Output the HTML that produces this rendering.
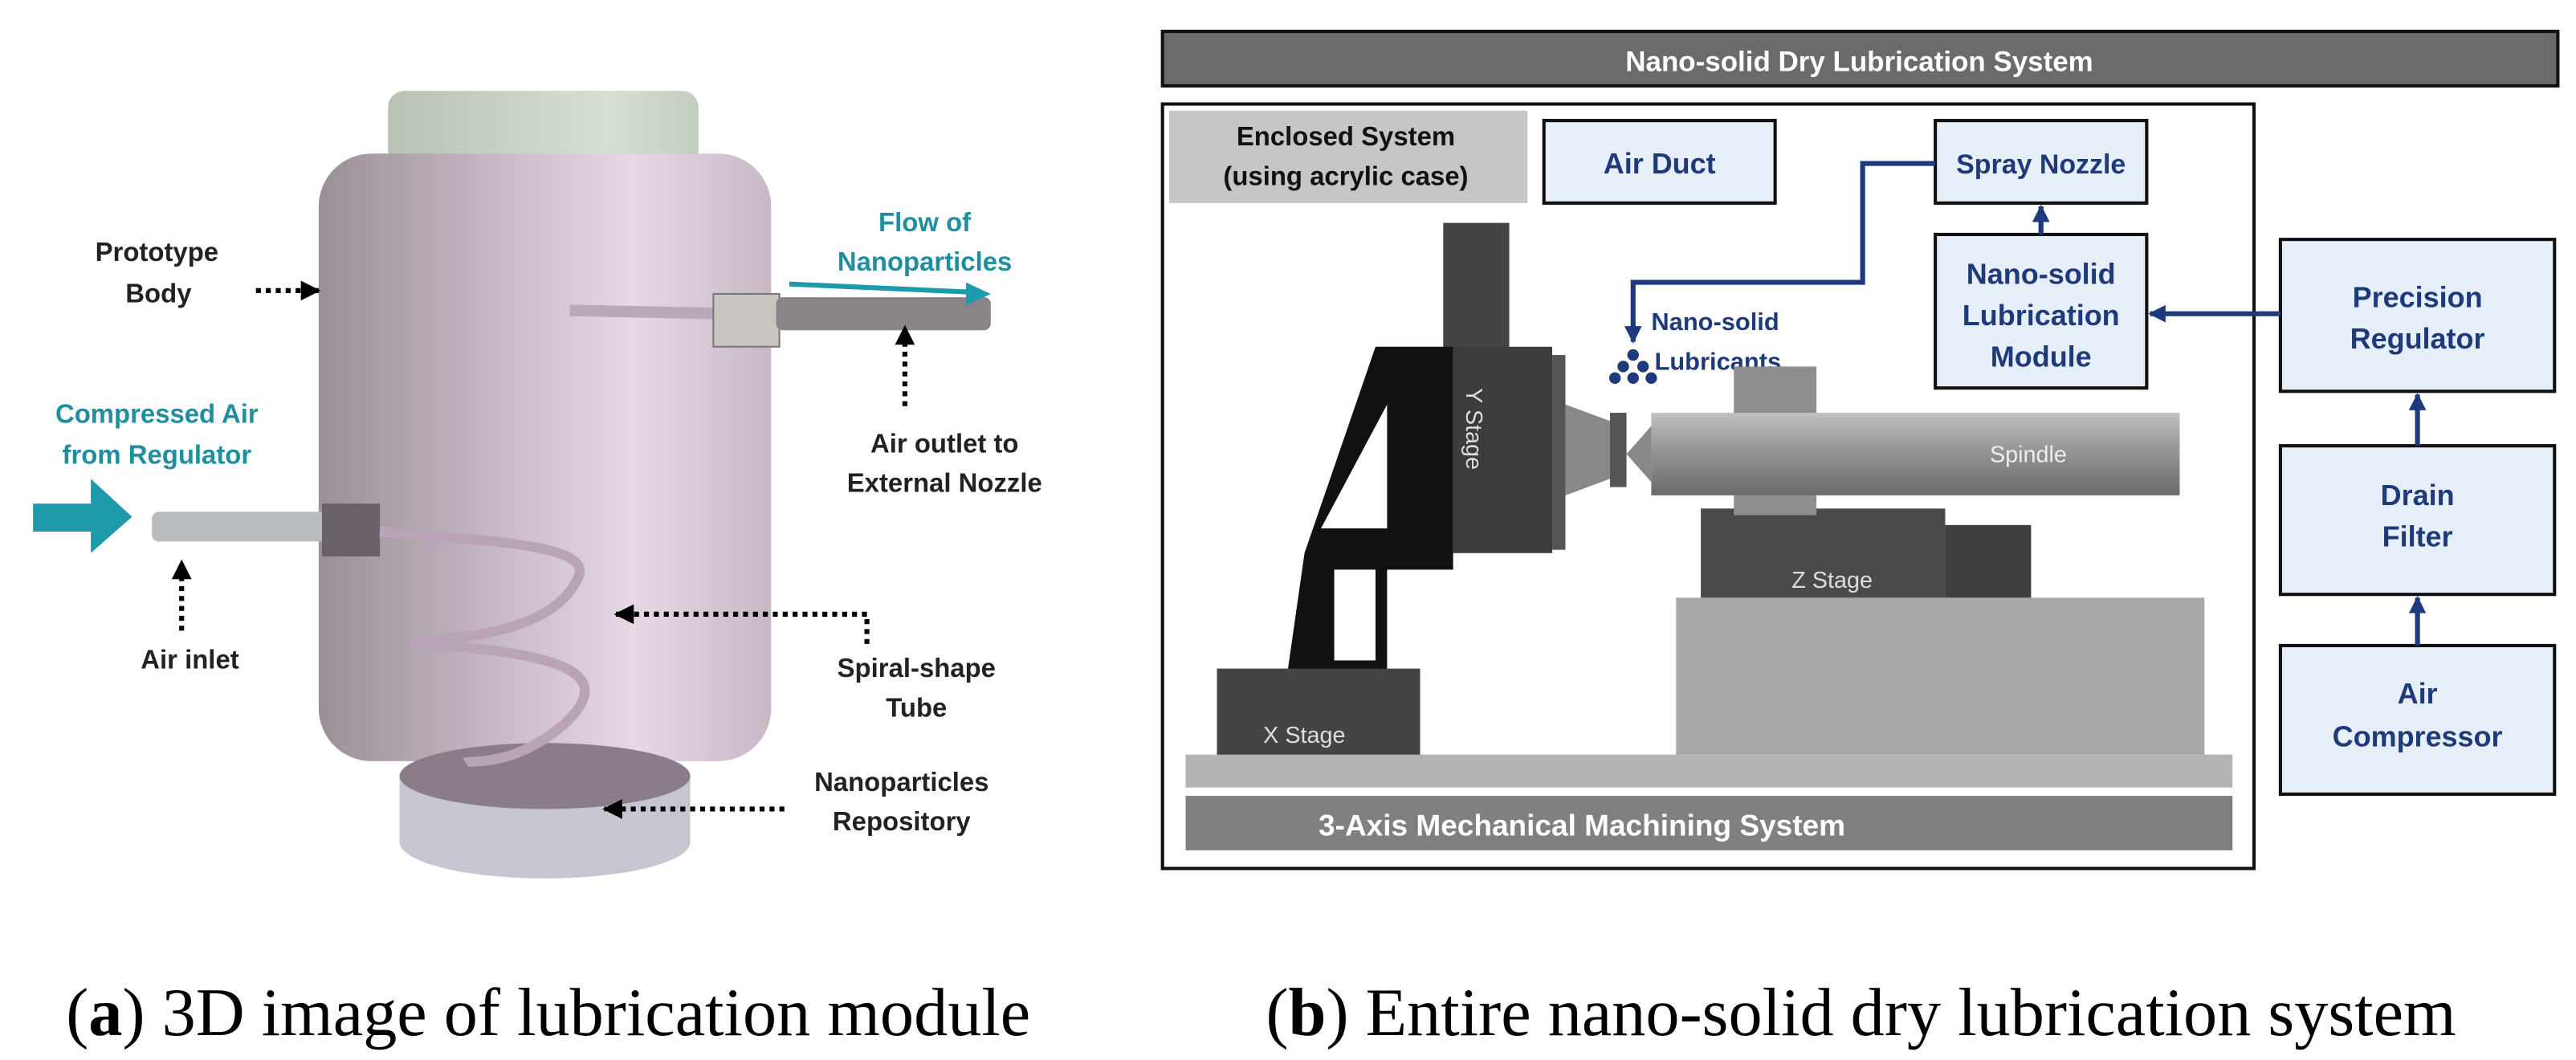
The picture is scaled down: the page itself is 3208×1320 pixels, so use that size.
<!DOCTYPE html>
<html><head><meta charset="utf-8"><style>html,body{margin:0;padding:0;background:#fff}svg{display:block}</style></head>
<body>
<svg width="3208" height="1320" viewBox="0 0 1560 642" preserveAspectRatio="none" xmlns="http://www.w3.org/2000/svg" font-family="Liberation Sans, sans-serif">
<defs>
<linearGradient id="body" x1="0" x2="1"><stop offset="0" stop-color="#9a8f98"/><stop offset="0.45" stop-color="#cdbfcc"/><stop offset="0.7" stop-color="#e6d8e4"/><stop offset="1" stop-color="#c8b8c6"/></linearGradient>
<linearGradient id="cap" x1="0" x2="1"><stop offset="0" stop-color="#b8c2b4"/><stop offset="0.7" stop-color="#d6e0d2"/><stop offset="1" stop-color="#c4cec0"/></linearGradient>
<linearGradient id="sp" x1="0" y1="0" x2="0" y2="1"><stop offset="0" stop-color="#c0c0c0"/><stop offset="0.4" stop-color="#9a9a9a"/><stop offset="1" stop-color="#6a6a6a"/></linearGradient>
<marker id="ah" viewBox="0 0 10 10" refX="9" refY="5" markerWidth="4" markerHeight="4" orient="auto"><path d="M0,0L10,5L0,10z" fill="#000"/></marker>
<marker id="nb" viewBox="0 0 10 10" refX="9" refY="5" markerWidth="3.5" markerHeight="3.5" orient="auto"><path d="M0,0L10,5L0,10z" fill="#1f3a7a"/></marker>
</defs>
<!-- LEFT PANEL -->
<rect x="235" y="55" width="188" height="60" rx="10" fill="url(#cap)"/>
<rect x="193" y="93" width="274" height="368" rx="32" fill="url(#body)"/>
<ellipse cx="330" cy="510" rx="88" ry="22" fill="#c6c6d0"/>
<rect x="242" y="470" width="176" height="40" fill="#c6c6d0"/>
<ellipse cx="330" cy="470" rx="88" ry="20" fill="#8a7c88"/>
<line x1="345" y1="188" x2="440" y2="190" stroke="#bba8b8" stroke-width="7"/>
<rect x="432" y="178" width="40" height="32" fill="#c8c4c0" stroke="#777" stroke-width="1"/>
<rect x="470" y="180" width="130" height="20" rx="4" fill="#8a8488"/>
<rect x="92" y="310" width="105" height="18" rx="4" fill="#b8bcc0"/>
<rect x="195" y="305" width="35" height="32" fill="#6a6068"/>
<path d="M230,322 C300,328 360,330 350,350 C330,395 230,385 255,390 C330,395 380,405 340,440 C310,465 285,460 282,462" fill="none" stroke="#b8a4b6" stroke-width="6"/>
<polygon points="20,305 55,305 55,290 80,313 55,335 55,322 20,322" fill="#1f9aab"/>
<line x1="478" y1="172" x2="590" y2="177" stroke="#1f9aab" stroke-width="3"/>
<polygon points="600,178 585,171 585,185" fill="#1f9aab"/>
<g font-weight="bold" font-size="16" text-anchor="middle">
<text x="95" y="158" fill="#222">Prototype</text><text x="96" y="183" fill="#222">Body</text>
<text x="560" y="140" fill="#1f8fa0">Flow of</text><text x="560" y="164" fill="#1f8fa0">Nanoparticles</text>
<text x="95" y="256" fill="#1f8fa0">Compressed Air</text><text x="95" y="281" fill="#1f8fa0">from Regulator</text>
<text x="572" y="274" fill="#222">Air outlet to</text><text x="572" y="298" fill="#222">External Nozzle</text>
<text x="115" y="405" fill="#222">Air inlet</text>
<text x="555" y="410" fill="#222">Spiral-shape</text><text x="555" y="434" fill="#222">Tube</text>
<text x="546" y="479" fill="#222">Nanoparticles</text><text x="546" y="503" fill="#222">Repository</text>
</g>
<g stroke="#000" stroke-width="3" stroke-dasharray="3,3" fill="none">
<line x1="155" y1="176" x2="193" y2="176" marker-end="url(#ah)"/>
<line x1="548" y1="246" x2="548" y2="198" marker-end="url(#ah)"/>
<line x1="110" y1="382" x2="110" y2="340" marker-end="url(#ah)"/>
<polyline points="525,390 525,372 373,372" marker-end="url(#ah)"/>
<line x1="475" y1="490" x2="366" y2="490" marker-end="url(#ah)"/>
</g>
<text x="332" y="627" font-family="Liberation Serif, serif" font-size="41" text-anchor="middle">(<tspan font-weight="bold">a</tspan>) 3D image of lubrication module</text>

<!-- RIGHT PANEL -->
<rect x="704" y="19" width="845" height="33" fill="#6b6b6b" stroke="#111" stroke-width="2"/>
<text x="1126" y="43" fill="#fff" font-weight="bold" font-size="17" text-anchor="middle">Nano-solid Dry Lubrication System</text>
<rect x="704" y="63" width="661" height="463" fill="#fff" stroke="#111" stroke-width="2"/>
<rect x="708" y="67" width="217" height="56" fill="#c6c6c6"/>
<g font-weight="bold" font-size="16" text-anchor="middle" fill="#111"><text x="815" y="88">Enclosed System</text><text x="815" y="112">(using acrylic case)</text></g>
<g fill="#e6eef8" stroke="#111" stroke-width="2">
<rect x="935" y="73" width="140" height="50"/>
<rect x="1172" y="73" width="128" height="50"/>
<rect x="1172" y="142" width="128" height="93"/>
<rect x="1381" y="145" width="166" height="92"/>
<rect x="1381" y="270" width="166" height="90"/>
<rect x="1381" y="391" width="166" height="90"/>
</g>
<g font-weight="bold" font-size="17.5" text-anchor="middle" fill="#1f3a7a">
<text x="1005" y="105">Air Duct</text>
<text x="1236" y="105" font-size="16.5">Spray Nozzle</text>
<text x="1236" y="172">Nano-solid</text><text x="1236" y="197">Lubrication</text><text x="1236" y="222">Module</text>
<text x="1464" y="186">Precision</text><text x="1464" y="211">Regulator</text>
<text x="1464" y="306">Drain</text><text x="1464" y="331">Filter</text>
<text x="1464" y="426">Air</text><text x="1464" y="452">Compressor</text>
</g>
<g font-weight="bold" font-size="15" fill="#1f3a7a"><text x="1000" y="200">Nano-solid</text><text x="1002" y="224">Lubricants</text></g>
<g stroke="#1f3a7a" stroke-width="3" fill="none">
<polyline points="1172,99 1128,99 1128,171 989,171 989,207" marker-end="url(#nb)"/>
<line x1="1236" y1="142" x2="1236" y2="125" marker-end="url(#nb)"/>
<line x1="1381" y1="190" x2="1302" y2="190" marker-end="url(#nb)"/>
<line x1="1464" y1="270" x2="1464" y2="239" marker-end="url(#nb)"/>
<line x1="1464" y1="391" x2="1464" y2="362" marker-end="url(#nb)"/>
</g>
<g fill="#1f3a7a"><circle cx="989" cy="215" r="3.5"/><circle cx="983" cy="222" r="3.5"/><circle cx="995" cy="222" r="3.5"/><circle cx="978" cy="229" r="3.5"/><circle cx="989" cy="229" r="3.5"/><circle cx="1000" cy="229" r="3.5"/></g>
<rect x="718" y="457" width="634" height="20" fill="#b4b4b4"/>
<rect x="718" y="482" width="634" height="33" fill="#808080"/>
<text x="958" y="506" fill="#fff" font-weight="bold" font-size="18" text-anchor="middle">3-Axis Mechanical Machining System</text>
<rect x="1015" y="362" width="320" height="95" fill="#a8a8a8"/>
<rect x="1030" y="308" width="148" height="54" fill="#4a4a4a"/><rect x="1178" y="318" width="52" height="44" fill="#3e3e3e"/>
<text x="1085" y="356" fill="#ddd" font-size="14">Z Stage</text>
<rect x="1050" y="222" width="50" height="90" fill="#8e8e8e"/>
<rect x="1000" y="250" width="320" height="50" fill="url(#sp)"/>
<polygon points="1000,258 985,275 1000,292" fill="#888"/>
<text x="1205" y="280" fill="#eee" font-size="14">Spindle</text>
<rect x="874" y="135" width="40" height="80" fill="#444"/>
<polygon points="790,335 833,210 880,210 880,345 840,345 840,405 860,405 860,457 737,457 737,405 780,405" fill="#111"/>
<polygon points="800,320 840,245 840,320" fill="#fff"/>
<rect x="808" y="345" width="25" height="55" fill="#fff"/>
<rect x="880" y="210" width="60" height="125" fill="#3c3c3c"/>
<rect x="940" y="215" width="8" height="118" fill="#555"/>
<polygon points="948,245 975,255 975,290 948,300" fill="#888"/>
<rect x="975" y="250" width="10" height="45" fill="#555"/>
<text transform="translate(888,235) rotate(90)" fill="#ddd" font-size="14">Y Stage</text>
<rect x="737" y="405" width="123" height="52" fill="#444"/>
<text x="765" y="450" fill="#ddd" font-size="14">X Stage</text>
<text x="1127" y="627" font-family="Liberation Serif, serif" font-size="41" text-anchor="middle">(<tspan font-weight="bold">b</tspan>) Entire nano-solid dry lubrication system</text>
</svg>
</body></html>
